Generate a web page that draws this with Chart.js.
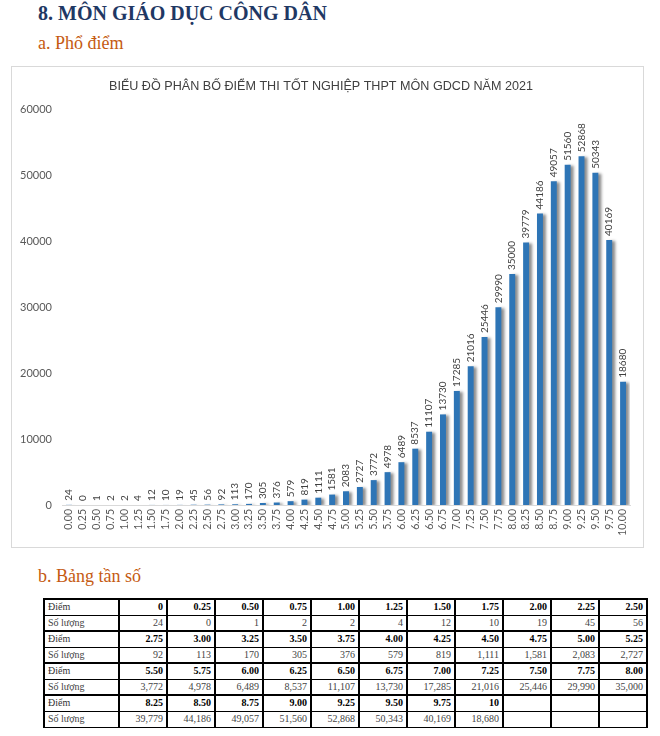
<!DOCTYPE html>
<html><head><meta charset="utf-8">
<script src="https://cdn.jsdelivr.net/npm/chart.js@4.4.1/dist/chart.umd.min.js"></script>
<style>
html,body{margin:0;padding:0;background:#fff;width:660px;height:736px;overflow:hidden;position:relative}
.h1{position:absolute;left:38px;top:2px;font-family:"Liberation Serif",serif;font-weight:bold;font-size:20px;color:#1F3864;white-space:nowrap}
.h2{position:absolute;font-family:"Liberation Serif",serif;font-size:18px;color:#C55A11;white-space:nowrap}
#box{position:absolute;left:11px;top:66px;width:631px;height:480px;border:1px solid #d9d9d9;box-sizing:content-box}
#box canvas{display:block}
table{position:absolute;left:43px;top:598px;width:603px;border-collapse:collapse;font-family:"Liberation Serif",serif;font-size:10px;table-layout:fixed}
td{border:1px solid #000;border-left:2px solid #000;border-right:2px solid #000;height:16px;padding:0 3px;text-align:right;line-height:14px;white-space:nowrap;overflow:hidden;box-sizing:border-box}
td.lab{text-align:left}
tr.d td{font-weight:bold;border-top:2px solid #000;color:#000}
tr.d td.lab{font-weight:normal;color:#333}
tr.n td{color:#444}
</style></head><body>
<div class="h1">8. MÔN GIÁO DỤC CÔNG DÂN</div>
<div class="h2" style="left:38px;top:33px">a. Phổ điểm</div>
<div id="box"><canvas id="c" width="631" height="480"></canvas></div>
<div class="h2" style="left:38px;top:566px">b. Bảng tần số</div>
<table id="t"></table>
<script>
const chartTitle = "BIỂU ĐỒ PHÂN BỐ ĐIỂM THI TỐT NGHIỆP THPT MÔN GDCD NĂM 2021";
const scoreLabels = ["0.00","0.25","0.50","0.75","1.00","1.25","1.50","1.75","2.00","2.25","2.50","2.75","3.00","3.25","3.50","3.75","4.00","4.25","4.50","4.75","5.00","5.25","5.50","5.75","6.00","6.25","6.50","6.75","7.00","7.25","7.50","7.75","8.00","8.25","8.50","8.75","9.00","9.25","9.50","9.75","10.00"];
const tableScoreLabels = ["0","0.25","0.50","0.75","1.00","1.25","1.50","1.75","2.00","2.25","2.50","2.75","3.00","3.25","3.50","3.75","4.00","4.25","4.50","4.75","5.00","5.25","5.50","5.75","6.00","6.25","6.50","6.75","7.00","7.25","7.50","7.75","8.00","8.25","8.50","8.75","9.00","9.25","9.50","9.75","10"];
const counts = [24,0,1,2,2,4,12,10,19,45,56,92,113,170,305,376,579,819,1111,1581,2083,2727,3772,4978,6489,8537,11107,13730,17285,21016,25446,29990,35000,39779,44186,49057,51560,52868,50343,40169,18680];
const yTicks = [0,10000,20000,30000,40000,50000,60000];
const rowLabelScore = "Điểm";
const rowLabelCount = "Số lượng";
const perRow = 11;

// table
const t = document.getElementById('t');
let cg = '<colgroup><col style="width:75px">';
for (let k = 0; k < perRow; k++) cg += '<col style="width:48px">';
t.innerHTML = cg + '</colgroup>';
for (let g = 0; g < Math.ceil(counts.length / perRow); g++) {
  const r1 = document.createElement('tr'); r1.className = 'd';
  const r2 = document.createElement('tr'); r2.className = 'n';
  let h1 = '<td class="lab">' + rowLabelScore + '</td>';
  let h2 = '<td class="lab">' + rowLabelCount + '</td>';
  for (let k = 0; k < perRow; k++) {
    const i = g * perRow + k;
    const a = i < counts.length ? tableScoreLabels[i] : '';
    const b = i < counts.length ? counts[i].toLocaleString('en-US') : '';
    h1 += '<td>' + a + '</td>';
    h2 += '<td>' + b + '</td>';
  }
  r1.innerHTML = h1; r2.innerHTML = h2;
  t.appendChild(r1); t.appendChild(r2);
}

const font = "Lato, 'Open Sans', sans-serif";
const shadowPlugin = {
  id: 'shadow',
  beforeDatasetsDraw(chart) {
    const ctx = chart.ctx; ctx.save();
    ctx.shadowColor = 'rgba(0,0,0,0.45)';
    ctx.shadowBlur = 3; ctx.shadowOffsetX = 3; ctx.shadowOffsetY = 1;
  },
  afterDatasetsDraw(chart) { chart.ctx.restore(); }
};
const labelPlugin = {
  id: 'vlabels',
  afterDatasetsDraw(chart) {
    const ctx = chart.ctx;
    const meta = chart.getDatasetMeta(0);
    ctx.save();
    ctx.fillStyle = '#404040';
    ctx.font = "10px " + font;
    ctx.textAlign = 'left'; ctx.textBaseline = 'middle';
    meta.data.forEach((bar, i) => {
      ctx.save();
      ctx.translate(bar.x, bar.y - 4);
      ctx.rotate(-Math.PI / 2);
      ctx.fillText(String(counts[i]), 0, 0);
      ctx.restore();
    });
    ctx.restore();
  }
};
new Chart(document.getElementById('c'), {
  type: 'bar',
  data: { labels: scoreLabels, datasets: [{ data: counts, backgroundColor: '#2E75B6', borderWidth: 0, barPercentage: 0.43, categoryPercentage: 1 }] },
  options: {
    responsive: false, animation: false, devicePixelRatio: 1,
    layout: { padding: { left: 0, right: 13, top: 0, bottom: 6 } },
    plugins: {
      legend: { display: false }, tooltip: { enabled: false },
      title: { display: true, text: chartTitle, color: '#404040', font: { family: "'Liberation Sans', Arial, sans-serif", size: 12.6, weight: 'normal' }, padding: { top: 12, bottom: 15 } }
    },
    scales: {
      x: {
        grid: { display: false, drawTicks: false },
        border: { display: true, color: '#d9d9d9' },
        ticks: { color: '#595959', font: { family: font, size: 10.5 }, minRotation: 90, maxRotation: 90, autoSkip: false, padding: 4 },
        afterFit(s) { s.height = 36; }
      },
      y: {
        min: 0, max: 60000,
        afterBuildTicks(s) { s.ticks = yTicks.map(v => ({ value: v })); },
        grid: { display: false, drawTicks: false },
        border: { display: false },
        ticks: { color: '#595959', font: { family: font, size: 11 }, padding: 10, callback: v => String(v) },
        afterFit(s) { s.width = 50; }
      }
    }
  },
  plugins: [shadowPlugin, labelPlugin]
});
</script>
</body></html>
